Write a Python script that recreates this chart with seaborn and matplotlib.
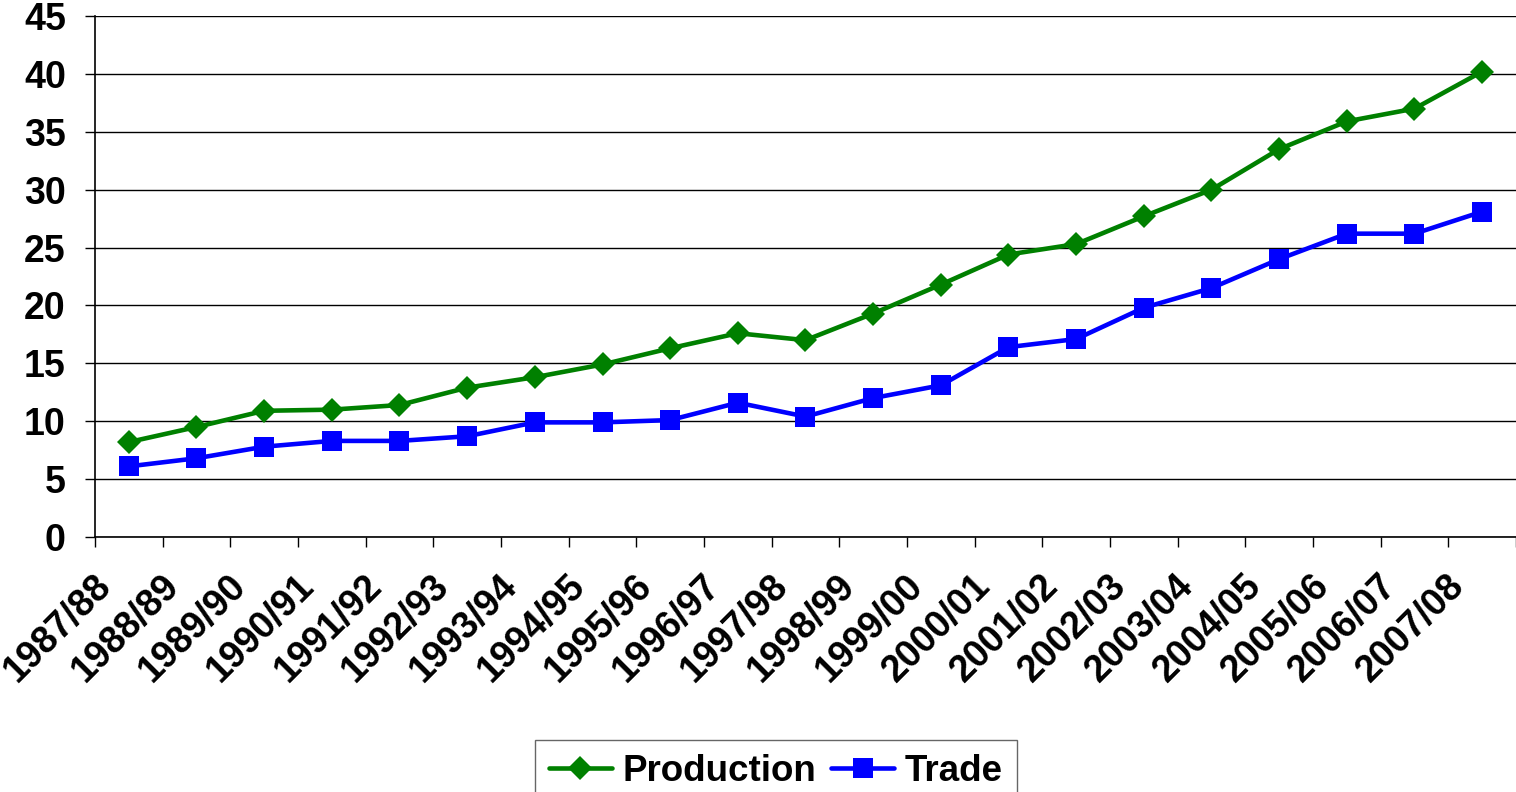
import matplotlib
matplotlib.use('Agg')
import matplotlib.pyplot as plt
import matplotlib.transforms as mtransforms
import numpy as np
import pandas as pd
import seaborn as sns

seasons = ['1987/88', '1988/89', '1989/90', '1990/91', '1991/92', '1992/93',
           '1993/94', '1994/95', '1995/96', '1996/97', '1997/98', '1998/99',
           '1999/00', '2000/01', '2001/02', '2002/03', '2003/04', '2004/05',
           '2005/06', '2006/07', '2007/08']
production = [8.2, 9.5, 10.9, 11.0, 11.4, 12.9, 13.8, 14.9, 16.3, 17.6, 17.0,
              19.3, 21.8, 24.4, 25.3, 27.7, 30.0, 33.5, 35.9, 37.0, 40.2]
trade = [6.1, 6.8, 7.8, 8.3, 8.3, 8.7, 9.9, 9.9, 10.1, 11.6, 10.4,
         12.0, 13.1, 16.4, 17.1, 19.8, 21.5, 24.0, 26.2, 26.2, 28.1]
y_ticks = list(range(0, 50, 5))

sns.set_style('white')
plt.rcParams['font.family'] = ['Liberation Sans', 'DejaVu Sans']
plt.rcParams['font.weight'] = 'bold'
plt.rcParams['text.color'] = 'black'
plt.rcParams['xtick.color'] = 'black'
plt.rcParams['ytick.color'] = 'black'

df = pd.DataFrame({'pos': np.arange(len(seasons)), 'Production': production, 'Trade': trade})

fig = plt.figure(figsize=(15.16, 7.92), dpi=100)
ax = fig.add_axes([95 / 1516, 1 - 537 / 792, 1 - 95 / 1516, (537 - 16) / 792])

sns.lineplot(data=df, x='pos', y='Production', ax=ax, color='#008000', linewidth=3.3,
             marker='D', markersize=12, markeredgewidth=0, label='Production')
sns.lineplot(data=df, x='pos', y='Trade', ax=ax, color='#0000FF', linewidth=3.3,
             marker='s', markersize=14, markeredgewidth=0, label='Trade')

ax.set_xlim(-0.5, len(seasons) - 0.5)
ax.set_ylim(0, 45)
ax.set_yticks(y_ticks)
ax.set_yticklabels([str(v) for v in y_ticks], fontsize=27, fontweight='bold', color='black')
ax.tick_params(axis='y', length=7, width=1, color='black', pad=14, left=True)

ax.set_xticks(np.arange(len(seasons)))
ax.set_xticklabels(seasons, rotation=45, ha='right', rotation_mode='anchor',
                   fontsize=27, fontweight='bold', color='black')
ax.set_xticks(np.arange(-0.5, len(seasons), 1), minor=True)
ax.tick_params(axis='x', which='major', length=0, pad=22)
ax.tick_params(axis='x', which='minor', length=7, width=1, color='black', bottom=True)
shift = mtransforms.ScaledTranslation(-0.36, 0, fig.dpi_scale_trans)
for lab in ax.get_xticklabels():
    lab.set_transform(lab.get_transform() + shift)

ax.yaxis.grid(True, color='black', linewidth=1)
ax.set_axisbelow(True)
for side in ['top', 'right']:
    ax.spines[side].set_visible(False)
for side in ['left', 'bottom']:
    ax.spines[side].set_color('black')
    ax.spines[side].set_linewidth(1.2)
ax.set_xlabel('')
ax.set_ylabel('')

ax.get_legend().remove()
handles, labels = ax.get_legend_handles_labels()
leg = fig.legend(handles, labels, loc='upper center', bbox_to_anchor=(776 / 1516, 1 - 740 / 792),
                 ncol=2, frameon=True, fancybox=False, edgecolor='#404040',
                 prop={'size': 26.5, 'weight': 'bold'}, handlelength=1.7, borderaxespad=0,
                 handletextpad=0.3, columnspacing=0.4, borderpad=0.38)
leg.get_frame().set_linewidth(1)

fig.savefig('out.png', dpi=100)
